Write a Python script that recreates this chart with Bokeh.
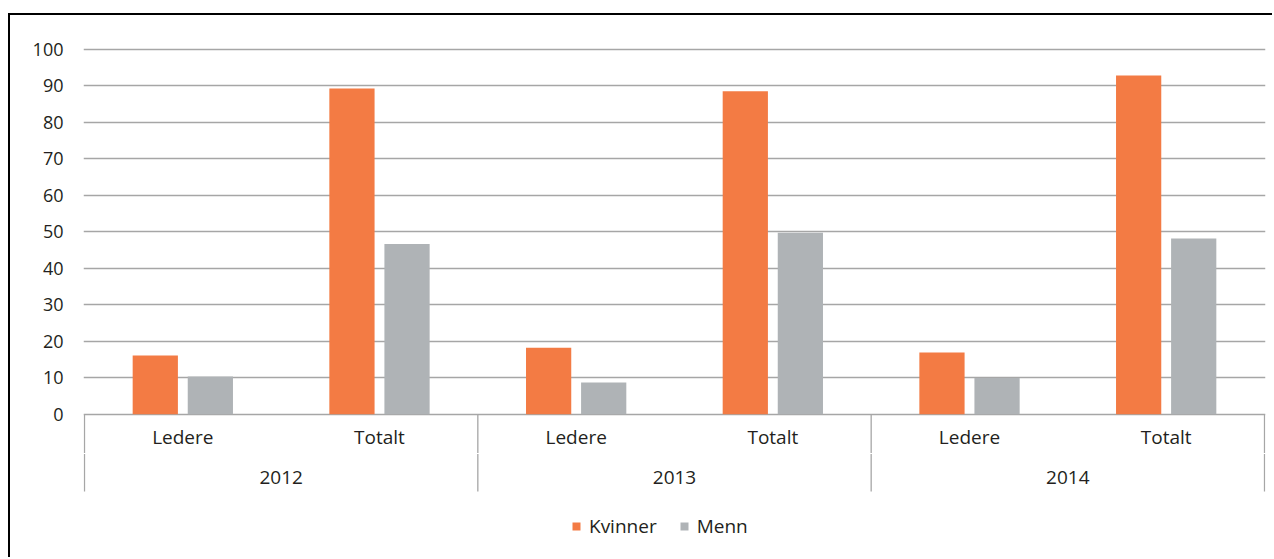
from bokeh.plotting import figure
from bokeh.models import Range1d, FixedTicker, ColumnDataSource, Legend, LegendItem
from bokeh.core.properties import value
from bokeh.embed import file_html
from bokeh.resources import INLINE

# ---- data ----
years = ["2012", "2013", "2014"]
groups = ["Ledere", "Totalt"]
series = ["Kvinner", "Menn"]
kvinner = [16.1, 89.2, 18.2, 88.5, 16.9, 92.8]
menn = [10.3, 46.6, 8.7, 49.7, 9.9, 48.1]
y_ticks = [0, 10, 20, 30, 40, 50, 60, 70, 80, 90, 100]

# ---- style ----
FONT = "Open Sans"
TEXT = "#231F20"
ORANGE = "#F37B44"
GREY = "#AFB3B6"
GRID = "#A6A6A6"

n_sub = len(groups)
slot = [gi * n_sub + ci + 0.5 for gi in range(len(years)) for ci in range(n_sub)]
sub_labels = [c for _ in years for c in groups]
year_x = [gi * n_sub + n_sub / 2 for gi in range(len(years))]
sep_x = [gi * n_sub for gi in range(len(years) + 1)]
n_slots = len(slot)

src = ColumnDataSource(dict(
    xk=[s - 0.14 for s in slot],
    xm=[s + 0.14 for s in slot],
    k=kvinner,
    m=menn,
))

p = figure(width=1264, height=544,
           x_range=Range1d(-0.005, n_slots + 0.005),
           y_range=Range1d(-39.8, 101.0),
           x_axis_location=None,
           output_backend="svg", toolbar_location=None,
           min_border_left=73, min_border_right=9,
           min_border_top=30, min_border_bottom=0)
p.styles = {"border-left": "2px solid black", "border-top": "2px solid black",
            "margin-top": "13px", "margin-left": "8px"}
p.outline_line_color = None
p.background_fill_color = "white"
p.border_fill_color = "white"

p.xgrid.visible = False
p.ygrid.ticker = FixedTicker(ticks=y_ticks)
p.ygrid.grid_line_color = GRID
p.ygrid.grid_line_width = 1.3
p.yaxis.ticker = FixedTicker(ticks=y_ticks)
p.yaxis.axis_line_color = None
p.yaxis.major_tick_line_color = None
p.yaxis.minor_tick_line_color = None
p.yaxis.major_label_standoff = 14
p.yaxis.major_label_text_font = FONT
p.yaxis.major_label_text_font_size = "18px"
p.yaxis.major_label_text_color = TEXT

rk = p.vbar(x="xk", top="k", bottom=0, width=0.23, source=src,
            fill_color=ORANGE, line_color=None)
rm = p.vbar(x="xm", top="m", bottom=0, width=0.23, source=src,
            fill_color=GREY, line_color=None)

# group separators
n_sep = len(sep_x)
p.segment(x0=sep_x, y0=[0] * n_sep, x1=sep_x, y1=[-10.6] * n_sep,
          line_color=GRID, line_width=1.3)
p.segment(x0=sep_x, y0=[-10.9] * n_sep, x1=sep_x, y1=[-21.2] * n_sep,
          line_color=GRID, line_width=1.3)

# category labels
p.text(x=slot, y=[-6.35] * n_slots, text=sub_labels,
       text_align="center", text_baseline="middle",
       text_font=value(FONT), text_font_size=value("19px"), text_color=TEXT)
p.text(x=year_x, y=[-17.4] * len(year_x), text=years,
       text_align="center", text_baseline="middle",
       text_font=value(FONT), text_font_size=value("19px"), text_color=TEXT)

legend = Legend(items=[LegendItem(label=series[0], renderers=[rk]),
                       LegendItem(label=series[1], renderers=[rm])],
                orientation="horizontal", location=(488, 20),
                border_line_color=None, background_fill_alpha=0,
                glyph_width=10, glyph_height=10, label_standoff=8, spacing=22,
                padding=0, margin=0,
                label_text_font=FONT, label_text_font_size="19px",
                label_text_color=TEXT)
p.add_layout(legend)

open("out.html", "w").write(file_html(p, INLINE))
